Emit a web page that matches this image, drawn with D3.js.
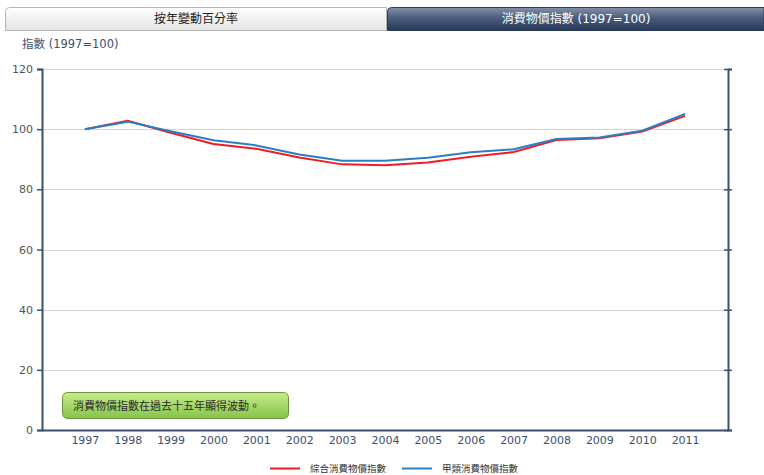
<!DOCTYPE html>
<html>
<head>
<meta charset="utf-8">
<script src="https://cdn.jsdelivr.net/npm/d3@7"></script>
<style>
body { margin: 0; background: #fff; font-family: "DejaVu Sans", "Noto Sans CJK TC", sans-serif; }
</style>
</head>
<body>
<script>
var width = 764,
    height = 475;

var years = ["1997","1998","1999","2000","2001","2002","2003","2004","2005","2006","2007","2008","2009","2010","2011"];
var compositeCPI = [100, 102.8, 98.8, 95.1, 93.5, 90.6, 88.3, 88.0, 88.9, 90.8, 92.4, 96.4, 97.0, 99.2, 104.4];
var typeACPI = [100, 102.5, 99.3, 96.3, 94.6, 91.6, 89.5, 89.5, 90.5, 92.3, 93.3, 96.7, 97.2, 99.5, 105.1];
var yTicks = [0, 20, 40, 60, 80, 100, 120];
var seriesNames = ["綜合消費物價指數", "甲類消費物價指數"];
var seriesColors = ["#ee1c25", "#2a7fc4"];
var tabLabels = ["按年變動百分率", "消費物價指數 (1997=100)"];
var note = "消費物價指數在過去十五年顯得波動。";

var cjk = "'DejaVu Sans', 'Noto Sans CJK TC', sans-serif";

var svg = d3.select("body").append("svg")
    .attr("width", width)
    .attr("height", height);

var defs = svg.append("defs");
var g1 = defs.append("linearGradient").attr("id", "tabLight").attr("x1", 0).attr("y1", 0).attr("x2", 0).attr("y2", 1);
g1.append("stop").attr("offset", "0%").attr("stop-color", "#ffffff");
g1.append("stop").attr("offset", "100%").attr("stop-color", "#e4e4e4");
var g2 = defs.append("linearGradient").attr("id", "tabDark").attr("x1", 0).attr("y1", 0).attr("x2", 0).attr("y2", 1);
g2.append("stop").attr("offset", "0%").attr("stop-color", "#8391a8");
g2.append("stop").attr("offset", "45%").attr("stop-color", "#4a5d7c");
g2.append("stop").attr("offset", "100%").attr("stop-color", "#26395a");
var g3 = defs.append("linearGradient").attr("id", "noteGrad").attr("x1", 0).attr("y1", 0).attr("x2", 0).attr("y2", 1);
g3.append("stop").attr("offset", "0%").attr("stop-color", "#c6eb8c");
g3.append("stop").attr("offset", "100%").attr("stop-color", "#86c44a");

// tabs
svg.append("path")
    .attr("d", "M5.5,30.5 V11.5 Q5.5,7.5 9.5,7.5 H386.5 V30.5 Z")
    .attr("fill", "url(#tabLight)")
    .attr("stroke", "#b5b5b5");
svg.append("path")
    .attr("d", "M387.5,30.5 V11.5 Q387.5,7.5 391.5,7.5 H764 V30.5 Z")
    .attr("fill", "url(#tabDark)")
    .attr("stroke", "#2c3b55");
svg.append("text").attr("x", 196).attr("y", 23).attr("text-anchor", "middle")
    .attr("font-family", cjk).attr("font-size", 12).attr("fill", "#222").text(tabLabels[0]);
svg.append("text").attr("x", 576).attr("y", 23).attr("text-anchor", "middle")
    .attr("font-family", cjk).attr("font-size", 12).attr("fill", "#fff").text(tabLabels[1]);

svg.append("text").attr("x", 22).attr("y", 48)
    .attr("font-family", cjk).attr("font-size", 11.5).attr("fill", "#3d4f6e").text("指數 (1997=100)");

var plotLeft = 42, plotRight = 728, plotTop = 69, plotBottom = 430;

var x = d3.scalePoint().domain(years).range([plotLeft, plotRight]).padding(1);
var y = d3.scaleLinear().domain([0, 120]).range([plotBottom, plotTop]);

// gridlines
svg.append("g").selectAll("line")
    .data(yTicks.filter(function(d) { return d > 0; }))
  .enter().append("line")
    .attr("x1", plotLeft).attr("x2", plotRight)
    .attr("y1", function(d) { return Math.round(y(d)) + 0.5; })
    .attr("y2", function(d) { return Math.round(y(d)) + 0.5; })
    .attr("stroke", "#d4d4d4");

var axisColor = "#3d4f6e";

var yAxis = svg.append("g")
    .attr("transform", "translate(" + plotLeft + ",0)")
    .call(d3.axisLeft(y).tickValues(yTicks).tickSize(5).tickPadding(4));
yAxis.select(".domain").attr("stroke", axisColor).attr("stroke-width", 2);
yAxis.selectAll(".tick line").attr("stroke", axisColor).attr("stroke-width", 1.5);
yAxis.selectAll("text").attr("font-family", "DejaVu Sans").attr("font-size", 11).attr("fill", "#555");

var yAxisR = svg.append("g")
    .attr("transform", "translate(" + plotRight + ",0)")
    .call(d3.axisRight(y).tickValues(yTicks).tickSize(4).tickFormat(""));
yAxisR.select(".domain").attr("stroke", axisColor).attr("stroke-width", 2);
yAxisR.selectAll(".tick line").attr("stroke", axisColor).attr("stroke-width", 1.5).attr("x1", -4);

var xAxis = svg.append("g")
    .attr("transform", "translate(0," + plotBottom + ")")
    .call(d3.axisBottom(x).tickSize(0).tickPadding(6));
xAxis.select(".domain").attr("stroke", axisColor).attr("stroke-width", 2);
xAxis.selectAll("text").attr("font-family", "DejaVu Sans").attr("font-size", 11).attr("fill", "#3d4f6e");

// lines
var line = d3.line()
    .x(function(d, i) { return x(years[i]); })
    .y(function(d) { return y(d); });

[compositeCPI, typeACPI].forEach(function(s, i) {
  svg.append("path")
      .datum(s)
      .attr("fill", "none")
      .attr("stroke", seriesColors[i])
      .attr("stroke-width", 2)
      .attr("d", line);
});

// note box
svg.append("rect")
    .attr("x", 62.5).attr("y", 392.5).attr("width", 226).attr("height", 26)
    .attr("rx", 5).attr("ry", 5)
    .attr("fill", "url(#noteGrad)")
    .attr("stroke", "#6b9440");
svg.append("text").attr("x", 73).attr("y", 410)
    .attr("font-family", cjk).attr("font-size", 11).attr("fill", "#2a2a2a").text(note);

// legend
var legendX = [270, 402];
seriesNames.forEach(function(n, i) {
  svg.append("line")
      .attr("x1", legendX[i]).attr("x2", legendX[i] + 30)
      .attr("y1", 468.5).attr("y2", 468.5)
      .attr("stroke", seriesColors[i]).attr("stroke-width", 2);
  svg.append("text")
      .attr("x", legendX[i] + 40).attr("y", 472)
      .attr("font-family", cjk).attr("font-size", 9.5).attr("fill", "#333").text(n);
});
</script>
</body>
</html>
